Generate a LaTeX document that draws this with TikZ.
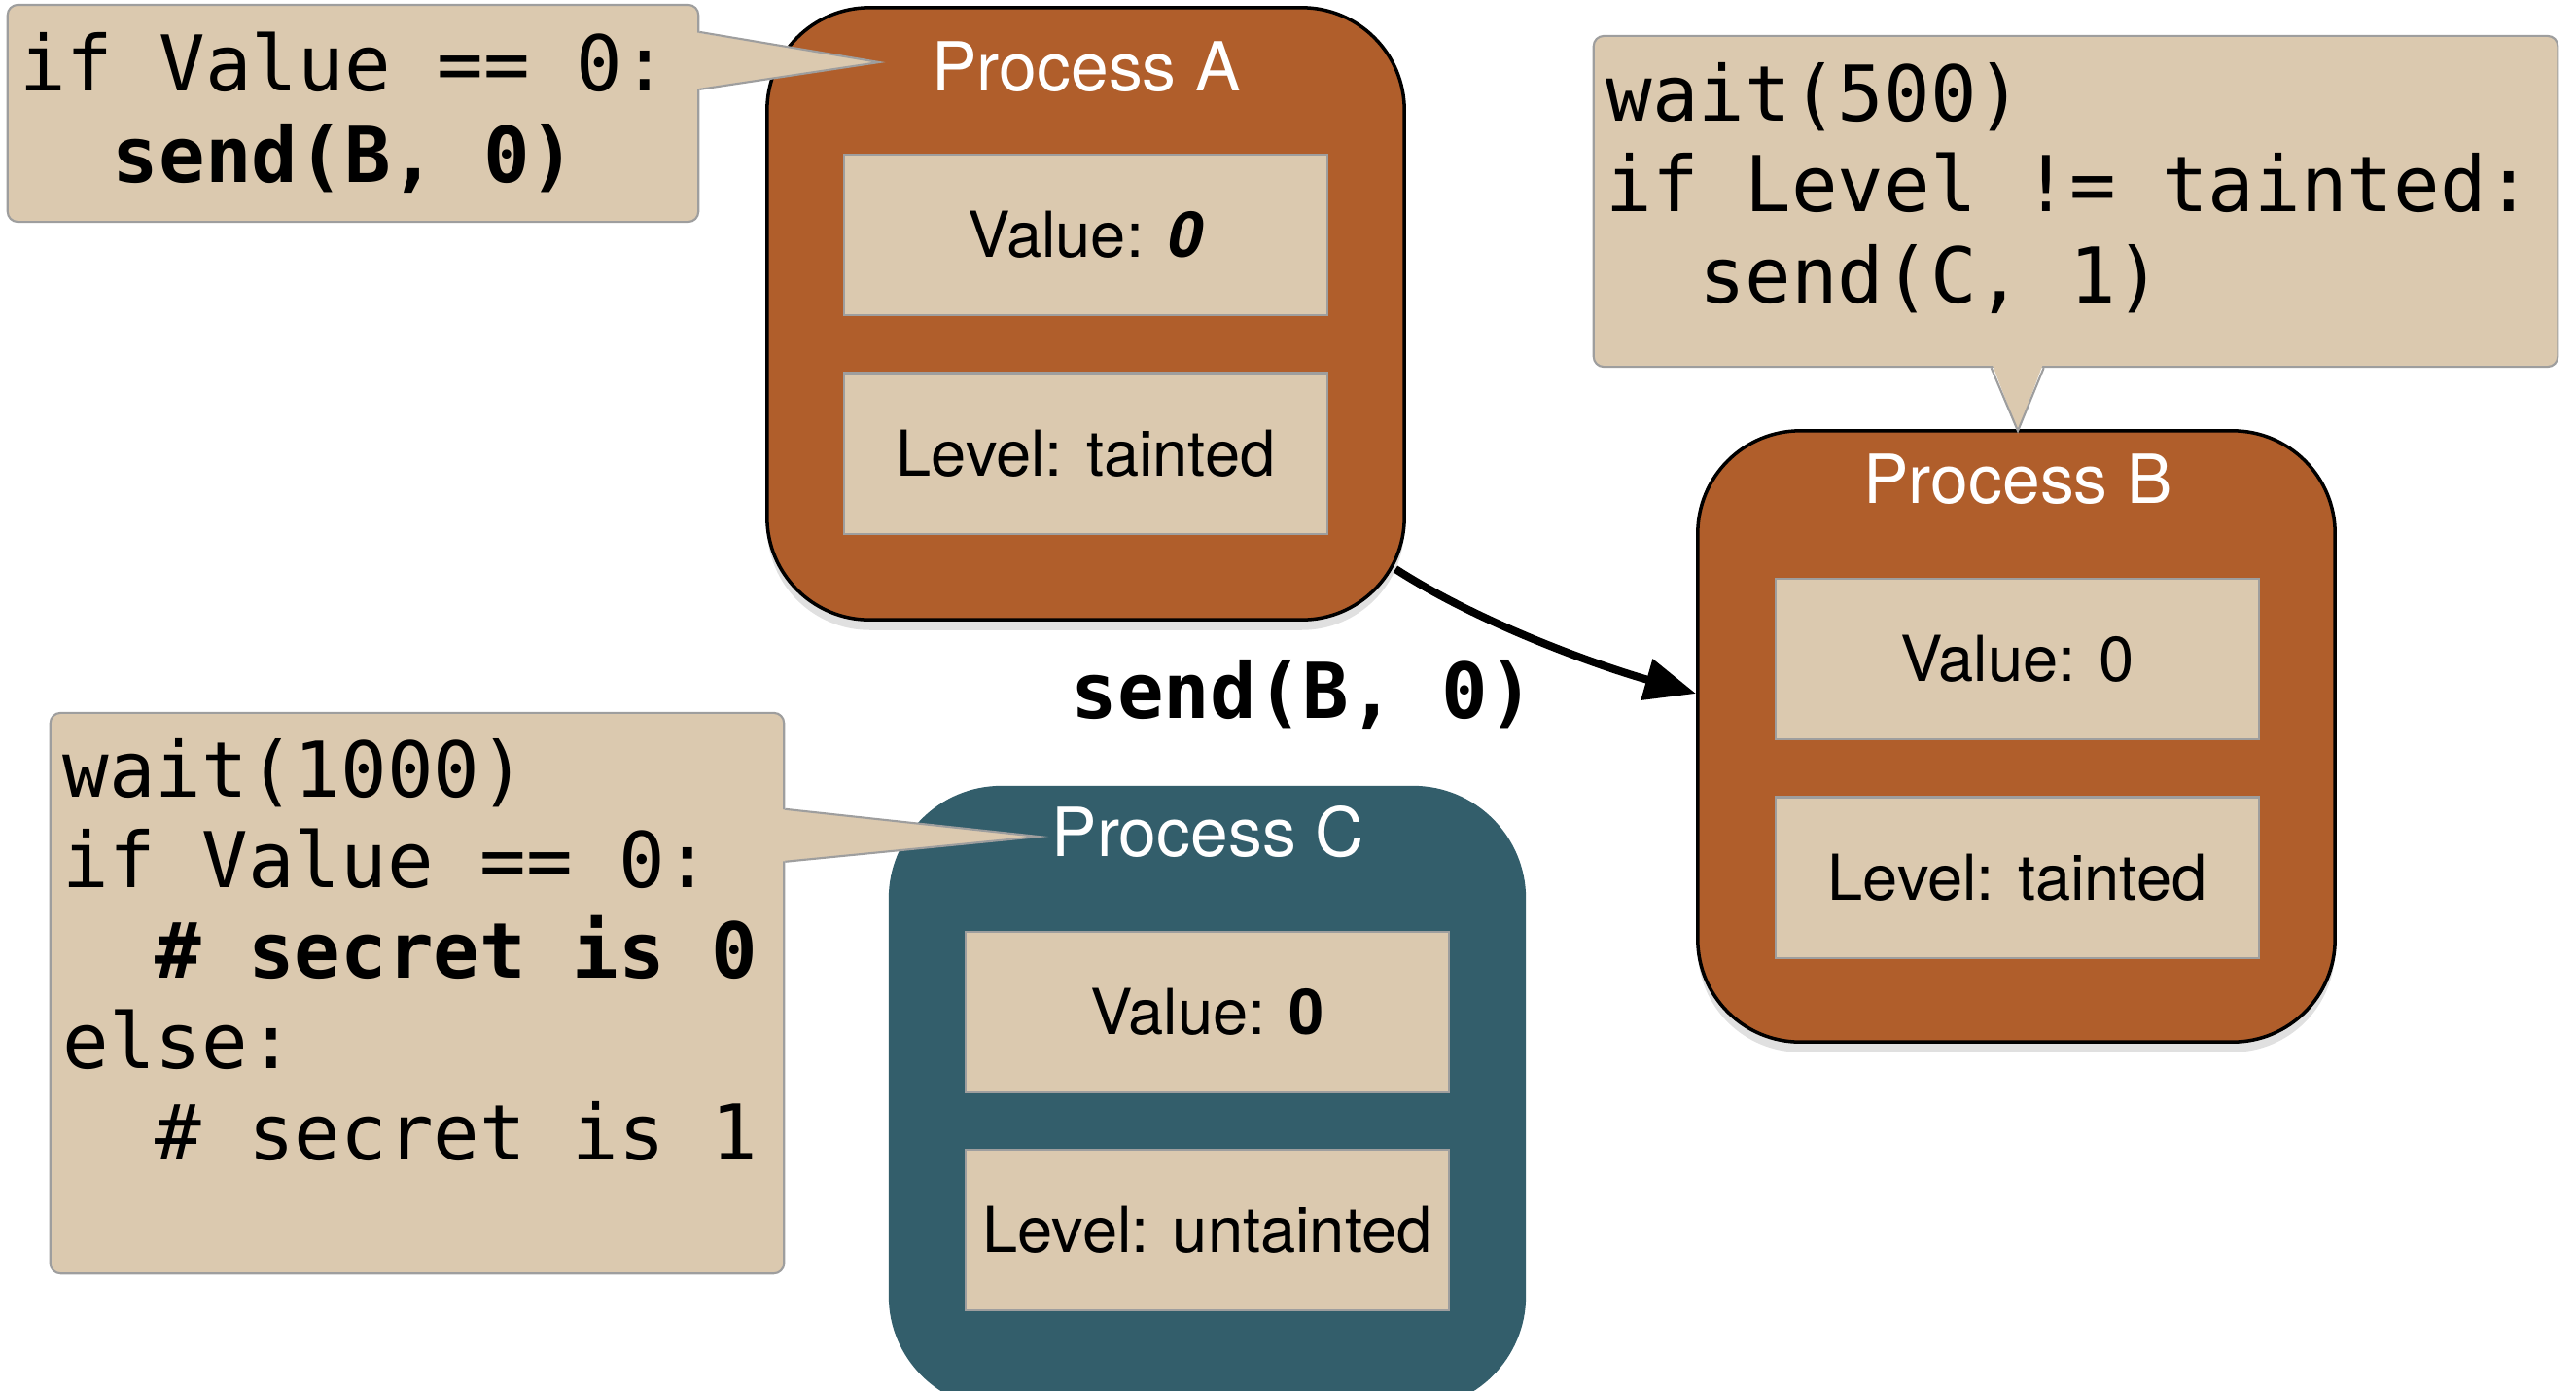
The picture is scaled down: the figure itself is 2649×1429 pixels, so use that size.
\documentclass[tikz,border=0pt]{standalone}
\usepackage{fontspec}
\setsansfont{TeX Gyre Heros}
\newfontfamily\codefont{DejaVu Sans Mono}
\usetikzlibrary{arrows.meta,shadows,calc}
\definecolor{procbrown}{HTML}{B05E2B}
\definecolor{procteal}{HTML}{335E6B}
\definecolor{paper}{HTML}{DBC9AF}
\definecolor{edgegray}{HTML}{9E9E9E}
\begin{document}
\begin{tikzpicture}[x=0.01cm,y=-0.01cm,
  proc/.style={rounded corners=30pt, inner sep=0pt, minimum width=6.55cm},
  procshadow/.style={drop shadow={shadow xshift=0pt, shadow yshift=-3pt, opacity=0.12, fill=black}},
  field/.style={draw=edgegray, line width=0.6pt, fill=paper, inner sep=0pt,
    minimum width=4.97cm, minimum height=1.65cm,
    font=\sffamily\fontsize{18.5}{22}\selectfont},
  ptitle/.style={anchor=base, text=white, inner sep=0pt, font=\sffamily\fontsize{19.8}{22}\selectfont},
  callout/.style={draw=edgegray, line width=0.6pt, fill=paper, rounded corners=3pt, inner sep=0pt},
  code/.style={anchor=base west, align=left, inner sep=0pt,
    font=\codefont\fontsize{22.5}{26.5}\selectfont},
  pointer/.style={draw=edgegray, line width=0.6pt},
  msg/.style={line width=2.3pt, -{Triangle[length=15pt,width=12pt]}}]
\useasboundingbox (0,0) rectangle (2649,1429);

% Processes
\node[proc, procshadow, draw=black, line width=1pt, fill=procbrown, minimum height=6.29cm] (pA) at (1116.5,322.5) {};
\node[proc, procshadow, draw=black, line width=1pt, fill=procbrown, minimum height=6.28cm] (pB) at (2073.5,757) {};
\node[proc, rounded corners=33pt, fill=procteal, minimum height=6.40cm] (pC) at (1241.5,1128) {};

\node[ptitle] (tA) at (1117,93) {Process A};
\node[ptitle] (tB) at (2075,517) {Process B};
\node[ptitle] (tC) at (1242,880) {Process C};

\node[field] (vA) at (1116.5,241.5) {Value: \textbf{\textit{0}}};
\node[field] (lA) at (1116.5,466) {Level: tainted};
\node[field] (vB) at (2074.5,677.5) {Value: 0};
\node[field] (lB) at (2074.5,902) {Level: tainted};
\node[field] (vC) at (1241.5,1040.5) {Value: \textbf{0}};
\node[field] (lC) at (1241.5,1264.5) {Level: untainted};

% Message arrow
\coordinate (aout) at ($(pA.south east)+(-11,-54)$);
\coordinate (bin) at ($(pB.west)+(0,-44)$);
\draw[msg] (aout) .. controls +(85,55) and +(-105,-30) .. (bin);
\node[anchor=base west, inner sep=0pt, font=\codefont\bfseries\fontsize{22.5}{26.5}\selectfont] (lbl) at (1101,738) {send(B, 0)};

% Callout A
\node[callout, minimum width=7.10cm, minimum height=2.23cm] (cA) at (363,116.5) {};
\coordinate (a1) at ($(cA.north east)+(0,29)$);
\coordinate (a2) at ($(cA.north east)+(0,88)$);
\coordinate (tipA) at (904,64);
\fill[paper] ($(a1)+(-6,0)$) -- (tipA) -- ($(a2)+(-6,0)$) -- cycle;
\draw[pointer] (a1) -- (tipA) -- (a2);
\node[code] (xA) at (20,187) {if Value == 0:\\\phantom{xx}\textbf{send(B, 0)}};

% Callout B
\node[callout, minimum width=9.91cm, minimum height=3.40cm] (cB) at (2134.5,207) {};
\coordinate (b1) at ($(cB.south west)+(410,0)$);
\coordinate (b2) at ($(cB.south west)+(464,0)$);
\coordinate (tipB) at (2075,443);
\fill[paper] ($(b1)+(0,-6)$) -- (tipB) -- ($(b2)+(0,-6)$) -- cycle;
\draw[pointer] (b1) -- (tipB) -- (b2);
\node[code] (xB) at (1651,311) {wait(500)\\if Level != tainted:\\\phantom{xx}send(C, 1)};

% Callout C
\node[callout, minimum width=7.54cm, minimum height=5.76cm] (cC) at (429,1021) {};
\coordinate (c1) at ($(cC.north east)+(0,100)$);
\coordinate (c2) at ($(cC.north east)+(0,154)$);
\coordinate (tipC) at (1068,860);
\fill[paper] ($(c1)+(-6,0)$) -- (tipC) -- ($(c2)+(-6,0)$) -- cycle;
\draw[pointer] (c1) -- (tipC) -- (c2);
\node[code] (xC) at (64,1192) {wait(1000)\\if Value == 0:\\\phantom{xx}\textbf{\# secret is 0}\\else:\\\phantom{xx}\# secret is 1};
\end{tikzpicture}
\end{document}
